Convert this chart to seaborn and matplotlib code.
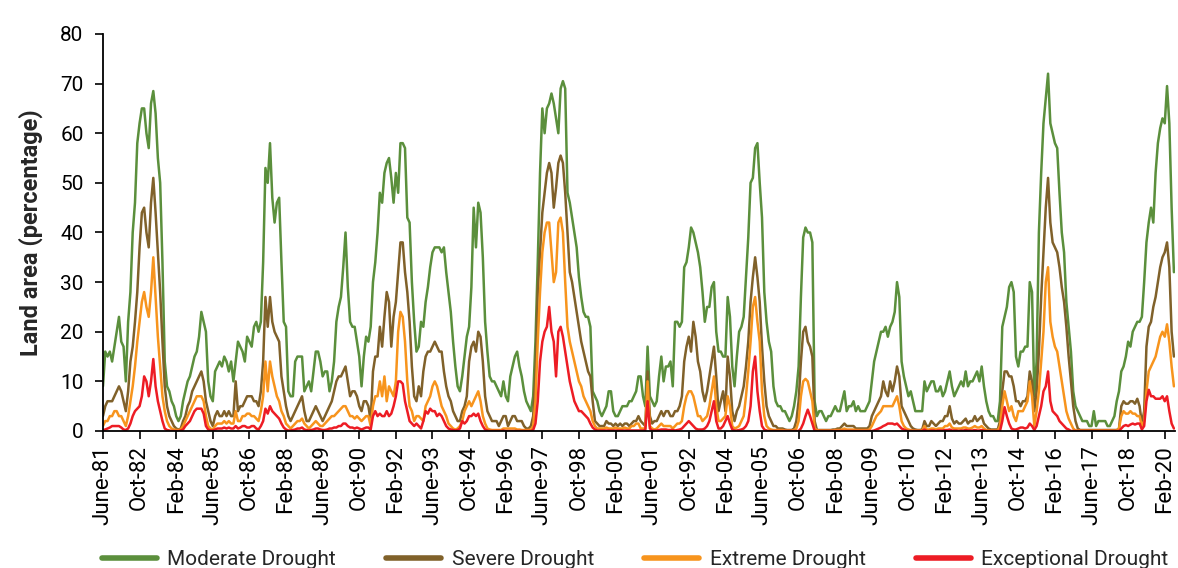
import numpy as np
import pandas as pd
import matplotlib
matplotlib.use("Agg")
import matplotlib.pyplot as plt
from matplotlib.lines import Line2D
import seaborn as sns

# Monthly share of land area in drought (%), June 1981 - June 2020
moderate = [
    9, 16, 15, 16, 14, 17, 20, 23, 18, 17, 10, 22,
    28, 40, 46, 58, 62, 65, 65, 60, 57, 66, 68.5, 64,
    55, 50, 34, 14, 9, 8, 6, 5, 3, 2, 3, 6,
    8, 10, 11, 13, 15, 16, 19, 24, 22, 20, 10, 7,
    6, 12, 13, 14, 13, 15, 14, 12, 14, 10, 14, 18,
    17, 16, 14, 19, 18, 17, 21, 22, 20, 22, 34, 53,
    50, 58, 47, 42, 46, 47, 34, 22, 21, 8, 7, 7,
    14, 15, 15, 15, 8, 9, 10, 8, 12, 16, 16, 14,
    11, 12, 12, 8, 10, 14, 22, 25, 27, 33, 40, 29,
    22, 21, 21, 18, 15, 9, 15, 19, 18, 21, 30, 34,
    40, 48, 46, 52, 54, 55, 51, 46, 52, 48, 58, 58,
    57, 43, 42, 30, 22, 16, 17, 22, 21, 26, 29, 33,
    36, 37, 37, 37, 36, 37, 32, 28, 24, 18, 13, 9,
    8, 11, 15, 19, 21, 29, 45, 37, 46, 44, 35, 22,
    16, 11, 10, 10, 9, 8, 7, 10, 7, 6, 11, 13,
    15, 16, 13, 11, 8, 6, 5, 4, 7, 18, 34, 52,
    65, 60, 65, 66, 68, 66, 63, 60, 69, 70.5, 69, 48,
    46, 43, 40, 37, 31, 27, 24, 23, 23, 21, 8, 7,
    6, 4, 3, 4, 5, 8, 8, 4, 3, 3, 4, 5,
    5, 5, 6, 6, 7, 8, 11, 11, 7, 5, 17, 7,
    6, 5, 6, 11, 15, 10, 13, 13, 14, 9, 22, 22,
    21, 22, 33, 34, 37, 41, 40, 38, 36, 33, 28, 22,
    25, 25, 29, 30, 20, 16, 16, 15, 15, 27, 23, 13,
    9, 15, 20, 21, 23, 31, 39, 50, 51, 57, 58, 50,
    43, 28, 22, 18, 16, 9, 6, 5, 5, 4, 4, 3,
    2, 3, 5, 8, 13, 27, 39, 41, 40, 40, 38, 6,
    3, 4, 4, 3, 2, 3, 3, 4, 5, 4, 4, 6,
    8, 4, 5, 5, 6, 4, 5, 4, 4, 4, 5, 6,
    10, 14, 16, 18, 20, 20, 21, 19, 21, 22, 24, 30,
    27, 14, 11, 9, 7, 8, 6, 4, 4, 4, 4, 10,
    8, 9, 10, 10, 8, 8, 9, 7, 8, 10, 12, 9,
    7, 8, 9, 10, 9, 12, 9, 10, 10, 11, 12, 10,
    13, 9, 6, 4, 3, 3, 2, 2, 6, 21, 23, 25,
    29, 30, 28, 15, 13, 16, 16, 17, 17, 30, 28, 7,
    14, 40, 52, 62, 67, 72, 62, 60, 58, 57, 48, 40,
    36, 26, 21, 16, 8, 5, 4, 3, 2, 2, 2, 1,
    1, 4, 1, 2, 2, 2, 2, 1, 1, 2, 3, 6,
    8, 12, 13, 15, 18, 17, 20, 21, 22, 22, 23, 30,
    38, 42, 45, 42, 52, 58, 61, 63, 62, 69.5, 62, 45,
    32,
]

severe = [
    3, 5, 6, 6, 6, 7, 8, 9, 8, 6, 4, 8,
    14, 17, 22, 28, 37, 44, 45, 40, 37, 46, 51, 44,
    36, 28, 18, 9, 5, 3, 2, 1, 0.5, 0.3, 0.5, 2,
    3, 5, 6, 8, 9, 10, 11, 12, 10, 6, 4, 2,
    1, 3, 4, 3, 3, 4, 3, 4, 3, 3, 10, 4,
    5, 5, 6, 7, 7, 7, 6, 6, 5, 8, 14, 27,
    21, 27, 22, 20, 19, 18, 11, 8, 5, 3, 2, 3,
    4, 5, 6, 7, 4, 2, 2, 3, 4, 5, 4, 3,
    2, 3, 4, 5, 6, 8, 10, 11, 11, 12, 13, 10,
    7, 8, 8, 7, 5, 4, 6, 6, 5, 2, 12, 15,
    15, 21, 17, 23, 28, 26, 17, 23, 26, 32, 38, 38,
    32, 28, 22, 13, 7, 6, 9, 7, 12, 15, 16, 16,
    17, 18, 17, 16, 16, 12, 9, 7, 6, 4, 3, 2,
    2, 4, 5, 7, 14, 17, 18, 16, 20, 19, 14, 7,
    4, 3, 2, 2, 2, 1, 2, 3, 3, 1, 2, 3,
    3, 2, 2, 2, 1, 0.5, 0.5, 1, 3, 12, 28, 36,
    44, 48, 52, 54, 52, 45, 49, 54, 55.5, 54, 48, 40,
    32, 30, 27, 24, 21, 18, 16, 14, 12, 11, 6, 2,
    1.5, 1, 1, 1, 2, 1.5, 1.5, 1, 1.5, 1, 1.5, 1,
    1.5, 1.5, 1, 1.5, 2, 2, 3, 2, 1.5, 1, 12, 3,
    1.5, 2, 2, 3, 4, 3, 4, 4, 3, 3, 4, 4,
    5, 7, 14, 17, 19, 16, 22, 19, 14, 12, 8, 6,
    8, 11, 14, 17, 11, 4, 6, 8, 4, 15, 11, 4,
    2, 4, 5, 7, 9, 13, 18, 26, 31, 35, 31, 26,
    17, 10, 5, 3, 2, 1, 1, 0.5, 0.5, 0.5, 0.3, 0.2,
    0.2, 0.2, 0.5, 2, 6, 14, 20, 21, 18, 17, 15, 2,
    0.2, 0.2, 0.2, 0.2, 0.2, 0.2, 0.2, 0.3, 0.3, 0.5, 0.5, 1,
    1.5, 1, 1, 1, 1, 0.5, 0.5, 0.5, 0.5, 0.5, 0.5, 1,
    3, 4, 5, 6, 7, 10, 8, 7, 10, 8, 10, 13,
    11, 5, 4, 3, 2, 1, 0.5, 0.3, 0.2, 0.2, 0.3, 2,
    1, 1, 2, 1.5, 1, 1.5, 2, 2, 3, 3, 5, 2.5,
    1.5, 2, 1.5, 1.5, 2, 2.5, 1.5, 2, 2, 3, 2, 2.5,
    3, 1.5, 1, 0.5, 0.3, 0.3, 0.3, 0.3, 2, 8, 12, 12,
    11, 11, 9, 6, 6, 5, 6, 6, 7, 12, 10, 4,
    8, 16, 27, 36, 45, 51, 42, 38, 37, 36, 33, 29,
    26, 21, 15, 10, 5, 2, 0.5, 0.2, 0.2, 0.2, 0.2, 0.2,
    0.2, 0.2, 0.2, 0.2, 0.2, 0.2, 0.2, 0.2, 0.2, 0.2, 0.2, 0.2,
    0.5, 5, 6, 5.5, 5.5, 6, 6, 5.5, 6.5, 5, 1.5, 4,
    17, 21, 22, 25, 27, 30, 33, 35, 36, 38, 33, 20,
    15,
]

extreme = [
    1, 2, 2, 3, 3, 4, 4, 3, 3, 2, 1, 3,
    6, 9, 13, 18, 22, 26, 28, 25, 23, 28, 35, 27,
    19, 13, 7, 4, 2, 1, 0.5, 0.3, 0.2, 0.2, 0.3, 1,
    2, 3, 4, 5, 6, 7, 7, 7, 6, 3, 1, 0.5,
    0.3, 1, 1.5, 1.5, 1.5, 2, 1.5, 2, 1.5, 1.5, 4, 2,
    2, 3, 3, 3.5, 3.5, 3, 3, 2.5, 2, 4, 7, 14,
    8, 14, 11, 9, 7, 6, 4, 3, 1.5, 1, 0.5, 1,
    1.5, 2, 2, 2.5, 1.5, 1, 0.5, 1, 1.5, 2, 1.5, 1,
    1, 1.5, 2, 2.5, 3, 3, 3.5, 4, 4.5, 5, 5, 4,
    3, 3, 2.5, 3, 2.5, 2, 2.5, 3, 3, 1, 5, 7,
    7, 10, 7, 11, 6, 9, 8, 7, 10, 20, 24, 23,
    18, 10, 5, 4, 2, 3, 3, 2.5, 2, 5, 6, 7,
    9, 10, 9, 7, 5, 4, 3, 1.5, 1, 0.5, 0.3, 0.5,
    1, 2, 4, 5, 6, 5, 6, 7, 8, 6, 3, 1.5,
    0.5, 0.3, 0.2, 0.2, 0.2, 0.2, 0.2, 0.5, 0.5, 0.5, 0.5, 0.5,
    0.5, 0.3, 0.3, 0.2, 0.2, 0.2, 0.2, 0.3, 1, 6, 18, 28,
    36, 40, 42, 42, 36, 30, 32, 42, 43, 40, 30, 21,
    18, 16, 14, 12, 10, 9, 7, 6, 5, 4, 2, 1,
    0.5, 0.5, 0.5, 0.5, 0.7, 0.5, 0.5, 0.5, 0.7, 0.5, 0.5, 0.5,
    0.7, 0.5, 0.5, 1, 1, 1.5, 1.5, 0.5, 0.5, 0.5, 10, 1,
    0.5, 0.3, 0.5, 1, 1.5, 1, 1, 1, 1, 0.5, 1, 1.5,
    1.5, 2, 5, 7, 8, 8, 7, 5, 3, 3, 2, 2.5,
    3, 5, 8, 11, 5, 2, 2, 2.5, 3, 7, 5, 1,
    0.5, 0.7, 1, 2, 3, 7, 12, 18, 25, 27, 22, 18,
    8, 3, 1, 0.5, 0.3, 0.2, 0.2, 0.2, 0.2, 0.2, 0.1, 0.1,
    0.1, 0.1, 0.2, 0.5, 2, 7, 10, 10.5, 10, 8, 6, 0.5,
    0.2, 0.1, 0.1, 0.1, 0.1, 0.1, 0.1, 0.1, 0.2, 0.2, 0.2, 0.3,
    0.5, 0.3, 0.3, 0.3, 0.3, 0.2, 0.2, 0.2, 0.2, 0.2, 0.2, 0.3,
    1, 2, 3, 3.5, 4, 5, 5, 5, 5, 5, 6, 7,
    5, 2, 1, 0.5, 0.3, 0.2, 0.1, 0.1, 0.1, 0.1, 0.1, 1,
    0.3, 0.3, 0.5, 0.5, 0.3, 0.5, 0.5, 0.5, 1, 1, 1.5, 0.7,
    0.5, 0.5, 0.5, 0.5, 0.7, 0.7, 0.5, 0.5, 0.7, 1, 0.7, 0.7,
    1, 0.5, 0.2, 0.1, 0.1, 0.1, 0.1, 0.1, 1, 5, 8, 6,
    4, 5, 3, 2, 4, 4, 4, 5, 6, 10, 7, 1,
    4, 8, 14, 20, 30, 33, 22, 19, 17, 16, 13, 10,
    7, 4, 2.5, 1.5, 0.5, 0.1, 0.1, 0.1, 0.1, 0.1, 0.1, 0.1,
    0.1, 0.1, 0.1, 0.1, 0.1, 0.1, 0.1, 0.1, 0.1, 0.1, 0.1, 0.1,
    0.5, 3, 4, 3.5, 3.5, 4, 3.5, 3.5, 3, 3, 1, 2,
    8, 12, 13, 14, 15, 17, 19, 20, 19, 21.5, 18, 13,
    9,
]

exceptional = [
    0.2, 0.3, 0.5, 0.7, 1, 1, 1, 1, 0.7, 0.3, 0.2, 0.5,
    1.5, 3, 4, 4.5, 5, 7, 11, 10, 7, 10, 14.5, 9,
    6, 4, 2, 0.5, 0.2, 0.1, 0, 0, 0, 0, 0.1, 0.3,
    1, 1.5, 2, 3, 4, 4.5, 4.5, 4.5, 3.5, 1, 0.3, 0.1,
    0.1, 0.3, 0.5, 0.5, 0.5, 0.7, 0.5, 0.7, 0.5, 0.5, 1, 0.5,
    0.7, 1, 1, 0.7, 0.7, 1, 1, 0.5, 0.3, 1, 2, 4.5,
    3.5, 5, 4, 3.5, 3, 2.5, 1.5, 0.7, 0.3, 0.1, 0.1, 0.2,
    0.3, 0.5, 0.5, 0.7, 0.3, 0.2, 0.1, 0.2, 0.3, 0.5, 0.5, 0.3,
    0.2, 0.2, 0.3, 0.5, 0.5, 0.7, 0.7, 1, 1, 1.5, 1.5, 1,
    0.7, 0.7, 0.5, 0.7, 0.5, 0.3, 0.5, 0.7, 0.7, 0.3, 3, 4,
    3, 3.5, 3, 3, 4, 3, 3.5, 5, 7, 10, 10, 9.5,
    6, 4, 2, 1.5, 1, 1.5, 1, 0.5, 2, 4, 3.5, 4.5,
    4, 4, 3, 3.5, 3, 2, 1, 0.5, 0.3, 0.2, 0.1, 0.2,
    0.5, 2, 1.5, 2, 3, 3, 3.5, 3, 3.5, 2, 1, 0.3,
    0.1, 0, 0, 0, 0, 0, 0, 0.1, 0, 0, 0, 0,
    0, 0, 0, 0, 0, 0, 0, 0, 0.2, 1.5, 6, 14,
    18, 20, 21, 25, 20, 18, 11, 20, 21, 19, 16, 13,
    10, 8, 6, 5, 4, 4, 3.5, 3, 2.5, 1.5, 0.7, 0.3,
    0.1, 0.1, 0.1, 0.1, 0.1, 0.1, 0.1, 0.1, 0.1, 0.1, 0.1, 0.1,
    0.1, 0.1, 0.1, 0.1, 0.1, 0.1, 0.1, 0.1, 0.1, 0.2, 6, 0.5,
    0.1, 0.1, 0.1, 0.2, 0.3, 0.3, 0.3, 0.2, 0.2, 0.2, 0.1, 0.2,
    0.3, 0.5, 1, 1.5, 2, 1.5, 1, 0.5, 0.3, 0.3, 0.3, 0.5,
    1, 2, 4, 6, 2, 0.5, 0.5, 1, 2, 3, 1.5, 0.3,
    0.1, 0.1, 0.2, 0.3, 0.5, 1, 2, 5, 12, 15, 8, 4,
    1, 0.3, 0.1, 0, 0, 0, 0, 0, 0, 0, 0, 0,
    0, 0, 0, 0, 0, 0.5, 1.5, 3, 4.3, 3, 1.5, 0,
    0, 0, 0, 0, 0, 0, 0, 0, 0, 0, 0, 0,
    0, 0, 0, 0, 0, 0, 0, 0, 0, 0, 0, 0,
    0, 0.1, 0.3, 0.5, 0.7, 1, 1.2, 1.5, 1.5, 1.5, 1.3, 1.5,
    1, 0.5, 0.3, 0.1, 0, 0, 0, 0, 0, 0, 0, 0.3,
    0, 0, 0.1, 0.1, 0, 0.1, 0.1, 0.1, 0.2, 0.2, 0.3, 0.1,
    0.1, 0.1, 0, 0.1, 0.1, 0.2, 0.1, 0.1, 0.1, 0.2, 0.1, 0.1,
    0.2, 0.1, 0, 0, 0, 0, 0, 0, 0, 2, 4.8, 3,
    1.5, 0.5, 0.3, 0.3, 0.5, 0.7, 0.7, 0.5, 0.7, 1.5, 1, 0.2,
    1, 3, 5, 8, 9, 12, 6, 4, 3.5, 3, 2, 1.5,
    1, 0.5, 0.3, 0, 0, 0, 0, 0, 0, 0, 0, 0,
    0, 0, 0, 0, 0, 0, 0, 0, 0, 0, 0, 0,
    0, 0.5, 1, 1.2, 1, 1.3, 1.5, 1.3, 1.5, 1.5, 0.3, 1,
    6, 8.3, 7, 7, 6.5, 6.5, 6.5, 7, 6, 7, 4, 1.5,
    0.5,
]

series_names = ["Moderate Drought", "Severe Drought", "Extreme Drought", "Exceptional Drought"]
colors = ["#5b8f3c", "#80612a", "#f7941d", "#ed1c24"]

# one label every 16 months (the "Oct-92" typo is in the original chart)
tick_labels = ["June-81", "Oct-82", "Feb-84", "June-85", "Oct-86", "Feb-88",
               "June-89", "Oct-90", "Feb-92", "June-93", "Oct-94", "Feb-96",
               "June-97", "Oct-98", "Feb-00", "June-01", "Oct-92", "Feb-04",
               "June-05", "Oct-06", "Feb-08", "June-09", "Oct-10", "Feb-12",
               "June-13", "Oct-14", "Feb-16", "June-17", "Oct-18", "Feb-20"]

sns.set_theme(style="ticks")
plt.rcParams["font.family"] = ["Roboto", "DejaVu Sans"]

# ── long table for seaborn ────────────────────────────────────
frames = []
for name, vals in zip(series_names, [moderate, severe, extreme, exceptional]):
    frames.append(pd.DataFrame({"month": np.arange(len(vals)), "value": vals, "series": name}))
df = pd.concat(frames, ignore_index=True)

fig = plt.figure(figsize=(11.78, 5.68), dpi=100)
ax = fig.add_axes([0.0874, 0.2412, 0.9101, 0.699])

sns.lineplot(data=df, x="month", y="value", hue="series", hue_order=series_names,
             palette=colors, linewidth=1.8, ax=ax, legend=False)

ax.set_xlim(0, len(moderate) - 0.5)
ax.set_ylim(0, 80)
ax.set_yticks(range(0, 81, 10))
ax.set_xticks(np.arange(0, 16 * len(tick_labels), 16))
ax.set_xticklabels(tick_labels, rotation=90)
ax.set_xlabel("")
ax.set_ylabel("Land area (percentage)", fontsize=17, fontweight="bold", labelpad=12)

for s in ["top", "right"]:
    ax.spines[s].set_visible(False)
for s in ["left", "bottom"]:
    ax.spines[s].set_color("black")
    ax.spines[s].set_linewidth(1.3)
ax.tick_params(axis="both", direction="out", length=6, width=1.2, color="black",
               labelcolor="black")
ax.tick_params(axis="y", pad=8, labelsize=15)
ax.tick_params(axis="x", pad=4, labelsize=16)

handles = [Line2D([0], [0], color=c, lw=4) for c in colors]
fig.legend(handles, series_names, loc="lower center", bbox_to_anchor=(0.539, -0.035),
           ncol=4, frameon=False, fontsize=15, handlelength=2.65, columnspacing=2.4,
           handletextpad=0.5)

fig.savefig("out.png", dpi=100)
